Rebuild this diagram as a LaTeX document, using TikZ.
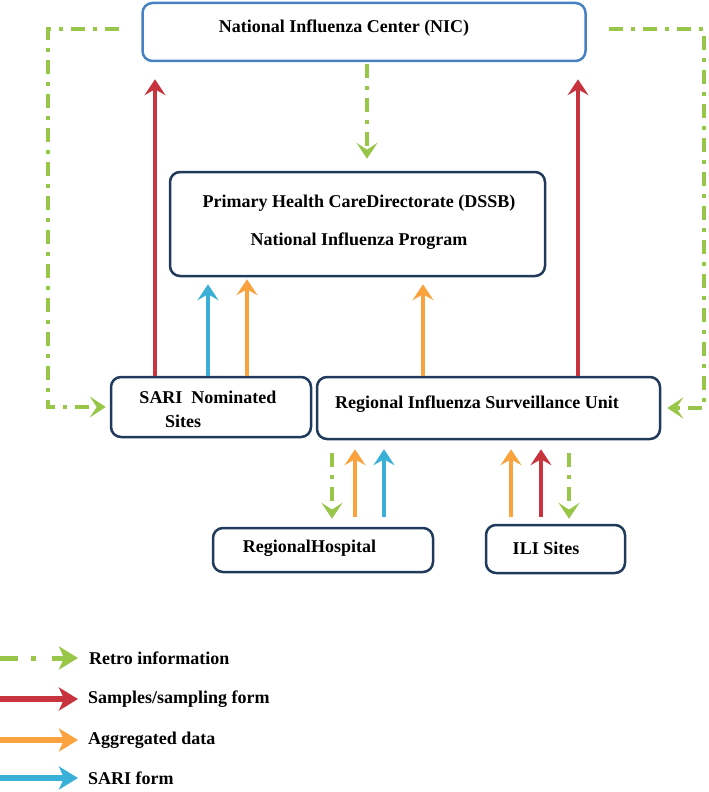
\documentclass[tikz,border=0pt]{standalone}
\usepackage{fontspec}
\setmainfont{Liberation Serif}
\usetikzlibrary{arrows.meta}
\definecolor{cgreen}{RGB}{152,198,72}
\definecolor{cred}{RGB}{200,52,62}
\definecolor{corange}{RGB}{250,162,62}
\definecolor{cblue}{RGB}{58,176,216}
\definecolor{cnic}{RGB}{72,128,196}
\definecolor{cnavy}{RGB}{32,58,92}
\begin{document}
\begin{tikzpicture}[x=1pt,y=-1pt,
  box/.style={draw=cnavy, line width=2.5pt, rounded corners=10pt, inner sep=0pt, fill=white},
  lbl/.style={font=\fontsize{18}{21}\selectfont\bfseries, inner sep=0pt},
  flowtip/.style={-{Stealth[length=16pt,width=21pt,inset=6pt]}},
  redflow/.style={draw=cred, line width=3.5pt, flowtip},
  orangeflow/.style={draw=corange, line width=3.5pt, flowtip},
  blueflow/.style={draw=cblue, line width=3.5pt, flowtip},
  retro/.style={draw=cgreen, line width=4pt, dash pattern=on 14pt off 8pt on 4pt off 8pt,
    -{Stealth[length=16pt,width=21pt,inset=7pt]}},
  legtip/.style={-{Stealth[length=19pt,width=23pt,inset=5pt]}},
]
\useasboundingbox (0,0) rectangle (709,792);

% boxes
\node[box, draw=cnic, minimum width=443pt, minimum height=58pt] (nic) at (364,32) {};
\node[box, minimum width=375pt, minimum height=104pt] (phc) at (357.5,224) {};
\node[box, minimum width=200pt, minimum height=60pt] (sari) at (211,407) {};
\node[box, minimum width=343pt, minimum height=62pt] (rsu) at (488.5,408) {};
\node[box, minimum width=220pt, minimum height=44pt] (rh) at (323,550) {};
\node[box, minimum width=139pt, minimum height=48pt] (ili) at (555.5,549) {};

% texts
\node[lbl] (nict) at (344,28) {National Influenza Center (NIC)};
\node[lbl] (phct1) at (359,203) {Primary Health CareDirectorate (DSSB)};
\node[lbl] (phct2) at (359,241) {National Influenza Program};
\node[lbl] (sarit1) at (208,397) {SARI~~Nominated};
\node[lbl] (sarit2) at (183,421) {Sites};
\node[lbl] (rsut) at (477,404) {Regional Influenza Surveillance Unit};
\node[lbl] (rht) at (309.5,548) {RegionalHospital};
\node[lbl] (ilit) at (546,548) {ILI Sites};

% x positions of vertical connectors
\coordinate (xr1) at (155,0);
\coordinate (xb1) at (208,0);
\coordinate (xo1) at (247,0);
\coordinate (xg0) at (367,0);
\coordinate (xo2) at (423,0);
\coordinate (xr2) at (578,0);
\coordinate (xg1) at (332,0);
\coordinate (xo3) at (355,0);
\coordinate (xb2) at (384,0);
\coordinate (xo4) at (511,0);
\coordinate (xr3) at (541,0);
\coordinate (xg2) at (569,0);

% red: samples to NIC
\draw[redflow, shorten >=17pt] (sari.north -| xr1) -- (nic.south -| xr1);
\draw[redflow, shorten >=17pt] (rsu.north -| xr2) -- (nic.south -| xr2);
% to PHC
\draw[blueflow, shorten >=7pt] (sari.north -| xb1) -- (phc.south -| xb1);
\draw[orangeflow, shorten >=2pt] (sari.north -| xo1) -- (phc.south -| xo1);
\draw[orangeflow, shorten >=7pt] (rsu.north -| xo2) -- (phc.south -| xo2);
% retro NIC -> PHC
\draw[retro, shorten <=2pt, shorten >=12pt] (nic.south -| xg0) -- (phc.north -| xg0);

% below RSU
\draw[retro, shorten <=13pt, shorten >=8pt] (rsu.south -| xg1) -- (rh.north -| xg1);
\draw[orangeflow, shorten <=10pt, shorten >=9pt] (rh.north -| xo3) -- (rsu.south -| xo3);
\draw[blueflow, shorten <=10pt, shorten >=9pt] (rh.north -| xb2) -- (rsu.south -| xb2);
\draw[orangeflow, shorten <=7pt, shorten >=9pt] (ili.north -| xo4) -- (rsu.south -| xo4);
\draw[redflow, shorten <=7pt, shorten >=9pt] (ili.north -| xr3) -- (rsu.south -| xr3);
\draw[retro, shorten <=13pt, shorten >=5pt] (rsu.south -| xg2) -- (ili.north -| xg2);

% retro side loops
\coordinate (cl) at (48,29);
\coordinate (cr) at (704,29);
\draw[retro, shorten >=4pt] ([xshift=-22pt,yshift=3pt]nic.west) -- (cl) -- (cl |- sari.west) -- (sari.west);
\draw[retro, shorten >=6pt] ([xshift=22pt,yshift=3pt]nic.east) -- (cr) -- (cr |- rsu.east) -- (rsu.east);

% legend
\node[lbl, anchor=west] (lt1) at (89,658) {Retro information};
\node[lbl, anchor=west] (lt2) at (88,699) {Samples/sampling form};
\node[lbl, anchor=west] (lt3) at (88,740) {Aggregated data};
\node[lbl, anchor=west] (lt4) at (88,778) {SARI form};
\coordinate (lg1) at (0,658);
\coordinate (lg2) at (0,699);
\coordinate (lg3) at (0,740);
\coordinate (lg4) at (0,778);
\draw[draw=cgreen, line width=5pt, dash pattern=on 18pt off 13pt on 5pt off 16pt, legtip, shorten >=11pt] (lg1) -- (lt1.west);
\draw[draw=cred, line width=6pt, legtip, shorten >=10pt] (lg2) -- (lt2.west);
\draw[draw=corange, line width=6pt, legtip, shorten >=10pt] (lg3) -- (lt3.west);
\draw[draw=cblue, line width=6pt, legtip, shorten >=10pt] (lg4) -- (lt4.west);
\end{tikzpicture}
\end{document}
